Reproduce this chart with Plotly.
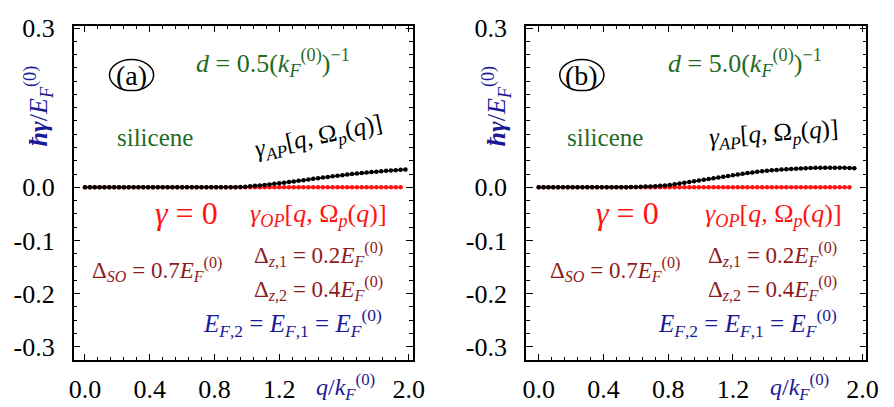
import plotly.graph_objects as go

# Momentum grid q / k_F^(0)
q_a = [0.00, 0.03, 0.06, 0.09, 0.12, 0.15, 0.18, 0.21, 0.24, 0.27, 0.30, 0.33,
       0.36, 0.39, 0.42, 0.45, 0.48, 0.51, 0.54, 0.57, 0.60, 0.63, 0.66, 0.69,
       0.72, 0.75, 0.78, 0.81, 0.84, 0.87, 0.90, 0.93, 0.96, 0.99, 1.02, 1.05,
       1.08, 1.11, 1.14, 1.17, 1.20, 1.23, 1.26, 1.29, 1.32, 1.35, 1.38, 1.41,
       1.44, 1.47, 1.50, 1.53, 1.56, 1.59, 1.62, 1.65, 1.68, 1.71, 1.74, 1.77,
       1.80, 1.83, 1.86, 1.89, 1.92, 1.95, 1.98]
q_b = q_a[:-1]

# Acoustic-plasmon damping, d = 0.5 (k_F^(0))^-1
gamma_ap_a = [0.0, 0.0, 0.0, 0.0, 0.0, 0.0, 0.0, 0.0, 0.0, 0.0, 0.0, 0.0,
              0.0, 0.0, 0.0, 0.0, 0.0, 0.0, 0.0, 0.0, 0.0, 0.0, 0.0, 0.0,
              0.0, 0.0, 0.0, 0.0, 0.0, 0.0, 0.0, 0.0003, 0.0006, 0.0012, 0.0020, 0.0028,
              0.0037, 0.0046, 0.0056, 0.0066, 0.0077, 0.0088, 0.0099, 0.0112, 0.0124, 0.0136, 0.0148, 0.0160,
              0.0172, 0.0184, 0.0196, 0.0207, 0.0218, 0.0229, 0.0240, 0.0250, 0.0260, 0.0270, 0.0279, 0.0288,
              0.0296, 0.0304, 0.0311, 0.0318, 0.0324, 0.0330, 0.0335]

# Acoustic-plasmon damping, d = 5.0 (k_F^(0))^-1
gamma_ap_b = [0.0, 0.0, 0.0, 0.0, 0.0, 0.0, 0.0, 0.0, 0.0, 0.0, 0.0, 0.0,
              0.0, 0.0, 0.0, 0.0, 0.0, 0.0002, 0.0004, 0.0006, 0.0008, 0.0011, 0.0014, 0.0018,
              0.0023, 0.0029, 0.0036, 0.0044, 0.0057, 0.0071, 0.0086, 0.0101, 0.0115, 0.0128, 0.0141, 0.0156,
              0.0171, 0.0186, 0.0201, 0.0215, 0.0229, 0.0243, 0.0257, 0.0270, 0.0282, 0.0293, 0.0303, 0.0312,
              0.0320, 0.0328, 0.0335, 0.0341, 0.0347, 0.0352, 0.0357, 0.0361, 0.0364, 0.0367, 0.0369, 0.0370,
              0.0371, 0.0371, 0.0370, 0.0368, 0.0366, 0.0362]

# Optical plasmon is undamped: gamma = 0
GAMMA_OP = 0.0
q_op_a = q_a[:-1]
q_op_b = q_b[:-1]
gamma_op_a = [GAMMA_OP for _ in q_op_a]
gamma_op_b = [GAMMA_OP for _ in q_op_b]

x_tickvals = [0.0, 0.4, 0.8, 1.2, 2.0]
x_ticktext = ["0.0", "0.4", "0.8", "1.2", "2.0"]
y_tickvals = [0.3, 0.0, -0.1, -0.2, -0.3]
y_ticktext = ["0.3", "0.0", "-0.1", "-0.2", "-0.3"]

W, H = 894, 407
SERIF = "Liberation Serif"
GREEN = "#1f6b1f"
DARKRED = "#8e1b1b"
BLUE = "#1a1a96"
RED = "#ff1414"


def px(x):
    return x / W


def py(y):
    return 1 - y / H


fig = go.Figure()

for q_op, g_op, q_ap, g_ap, xa, ya in [
    (q_op_a, gamma_op_a, q_a, gamma_ap_a, "x", "y"),
    (q_op_b, gamma_op_b, q_b, gamma_ap_b, "x2", "y2"),
]:
    fig.add_trace(go.Scatter(
        x=q_op, y=g_op, mode="lines+markers", xaxis=xa, yaxis=ya,
        line=dict(color=RED, width=1.6), marker=dict(color=RED, size=4.5),
        showlegend=False))
    fig.add_trace(go.Scatter(
        x=q_ap, y=g_ap, mode="lines+markers", xaxis=xa, yaxis=ya,
        line=dict(color="black", width=1.6), marker=dict(color="black", size=4.5),
        showlegend=False))

axis_common = dict(
    showline=True, linecolor="black", linewidth=1.5, mirror="allticks",
    ticks="inside", ticklen=7, tickwidth=1.2, tickcolor="black",
    showgrid=False, zeroline=False,
    tickfont=dict(family=SERIF, size=26, color="black"),
)

fig.update_layout(
    width=W, height=H, margin=dict(l=0, r=0, t=0, b=0),
    paper_bgcolor="white", plot_bgcolor="white",
    font=dict(family=SERIF),
    xaxis=dict(domain=[px(70), px(416)], range=[-0.070, 2.027],
               tickvals=x_tickvals, ticktext=x_ticktext, anchor="y",
               minor=dict(ticks="inside", dtick=0.08, tick0=0, ticklen=4, tickcolor="black"),
               ticklabelstandoff=5, **axis_common),
    yaxis=dict(domain=[py(360), py(15)], range=[-0.326, 0.3048],
               tickvals=y_tickvals, ticktext=y_ticktext, anchor="x",
               minor=dict(ticks="inside", dtick=0.025, tick0=0, ticklen=4, tickcolor="black"),
               ticklabelstandoff=12, **axis_common),
    xaxis2=dict(domain=[px(531), px(878)], range=[-0.079, 2.024],
                tickvals=x_tickvals, ticktext=x_ticktext, anchor="y2",
                minor=dict(ticks="inside", dtick=0.08, tick0=0, ticklen=4, tickcolor="black"),
                ticklabelstandoff=5, **axis_common),
    yaxis2=dict(domain=[py(360), py(15)], range=[-0.326, 0.3048],
                tickvals=y_tickvals, ticktext=y_ticktext, anchor="x2",
                minor=dict(ticks="inside", dtick=0.025, tick0=0, ticklen=4, tickcolor="black"),
                ticklabelstandoff=12, **axis_common),
)

EF0 = "<i>E</i><sub><i>F</i></sub><sup>(0)</sup>"
kF0 = "<i>k</i><sub><i>F</i></sub><sup>(0)</sup>"

panels = [
    dict(tag="(a)", tagx=129, d="0.5", dx_d=273, apx=320, apy=130, apang=-12,
         silx=153, opx=320, zx=320, sox=155, efx=293, ytx=34, xtx=347, g0x=185),
    dict(tag="(b)", tagx=588, d="5.0", dx_d=754, apx=783, apy=127, apang=-4,
         silx=612, opx=783, zx=782, sox=622, efx=757, ytx=501, xtx=810, g0x=635),
]


def note(text, x, y, size, color, angle=0, xanchor="center"):
    fig.add_annotation(
        text=text, x=px(x), y=py(y), xref="paper", yref="paper",
        xanchor=xanchor, yanchor="middle", showarrow=False, textangle=angle,
        font=dict(family=SERIF, size=size, color=color))


for p in panels:
    # circled panel tag
    cx, cy, rx, ry = p["tagx"], 66, 22.5, 16
    fig.add_shape(type="circle", xref="paper", yref="paper",
                  x0=px(cx - rx), x1=px(cx + rx), y0=py(cy + ry), y1=py(cy - ry),
                  line=dict(color="black", width=1.5))
    note(p["tag"], cx, cy, 28, "black")
    note(f"<i>d</i> = {p['d']}({kF0})<sup>−1</sup>", p["dx_d"], 54, 26, GREEN)
    note("silicene", p["silx"], 130, 25, GREEN)
    note("<i>γ</i><sub><i>AP</i></sub>[<i>q</i>, Ω<sub><i>p</i></sub>(<i>q</i>)]",
         p["apx"], p["apy"], 25, "black", angle=p["apang"])
    note("<i>γ</i> = 0", p["g0x"], 208, 32, RED)
    note("<i>γ</i><sub><i>OP</i></sub>[<i>q</i>, Ω<sub><i>p</i></sub>(<i>q</i>)]",
         p["opx"], 210, 26, RED)
    note(f"Δ<sub><i>SO</i></sub> = 0.7{EF0}", p["sox"], 266, 23, DARKRED)
    note(f"Δ<sub><i>z</i>,1</sub> = 0.2{EF0}", p["zx"], 251, 23, DARKRED)
    note(f"Δ<sub><i>z</i>,2</sub> = 0.4{EF0}", p["zx"], 286, 23, DARKRED)
    note(f"<i>E</i><sub><i>F</i>,2</sub> = <i>E</i><sub><i>F</i>,1</sub> = {EF0}",
         p["efx"], 321, 25, BLUE)
    note(f"<b><i>ħγ</i></b>/{EF0}", p["ytx"], 98, 26, BLUE, angle=-90)
    note(f"<i>q</i>/{kF0}", p["xtx"], 387, 24, BLUE)

fig.write_html("out.html")
